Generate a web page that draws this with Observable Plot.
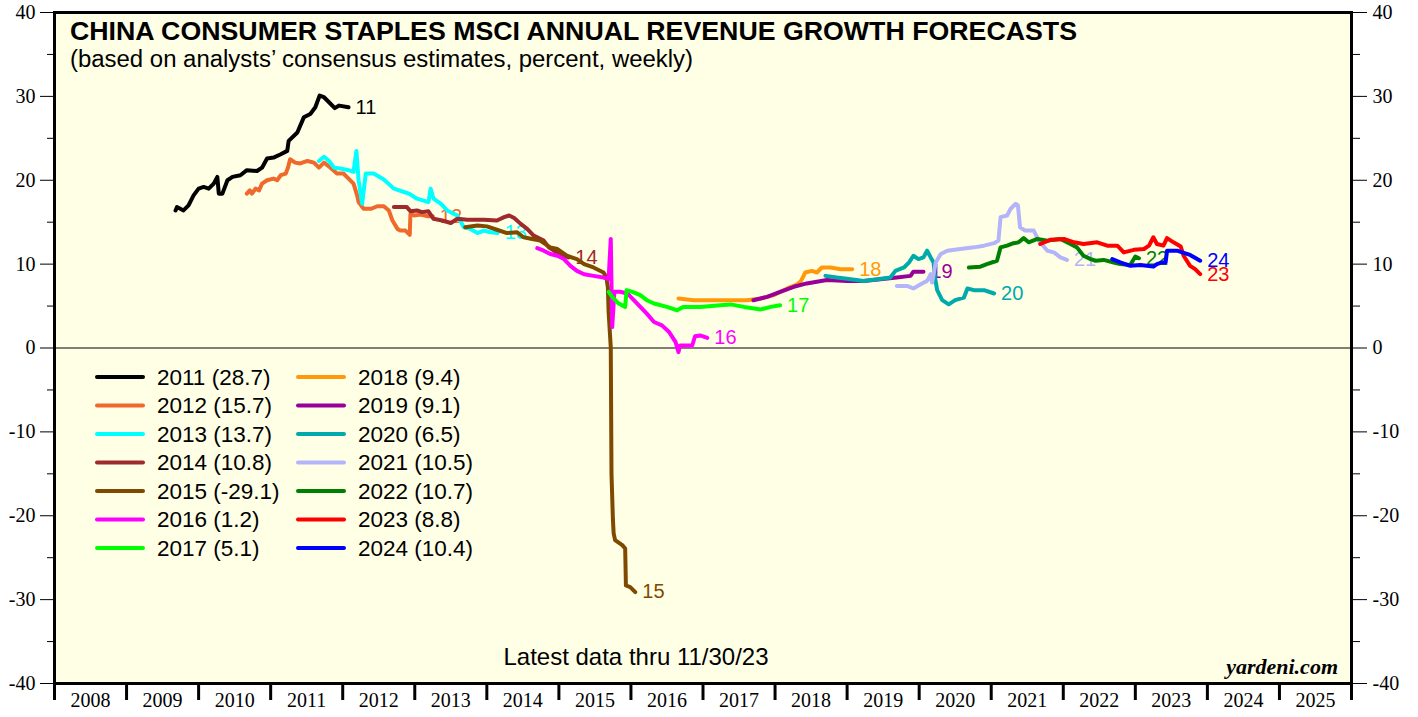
<!DOCTYPE html>
<html><head><meta charset="utf-8">
<script src="https://cdn.jsdelivr.net/npm/d3@7"></script>
<script src="https://cdn.jsdelivr.net/npm/@observablehq/plot@0.6"></script>
<style>
html,body{margin:0;padding:0;background:#fff}
#wrap{position:relative;width:1418px;height:717px}
</style></head>
<body><div id="wrap"></div>
<script>
// ---------- DATA (decimal year, percent) ----------
const s2011 = [[2009.68,16.4],[2009.70,16.8],[2009.79,16.4],[2009.86,17.0],[2009.93,18.2],[2010.00,19.0],[2010.07,19.2],[2010.14,19.0],[2010.21,19.6],[2010.26,20.4],[2010.28,18.4],[2010.33,18.4],[2010.40,20.0],[2010.47,20.4],[2010.58,20.6],[2010.67,21.2],[2010.81,21.1],[2010.88,21.5],[2010.95,22.6],[2011.04,22.7],[2011.14,23.1],[2011.23,23.5],[2011.25,24.7],[2011.37,25.7],[2011.46,27.5],[2011.55,27.9],[2011.62,28.7],[2011.68,30.1],[2011.74,29.9],[2011.81,29.3],[2011.89,28.6],[2011.95,28.9],[2012.08,28.7]];
const s2012 = [[2010.67,18.4],[2010.71,18.8],[2010.74,18.4],[2010.79,19.0],[2010.84,18.8],[2010.88,19.6],[2010.95,20.0],[2011.04,20.2],[2011.09,20.0],[2011.14,20.6],[2011.21,20.8],[2011.24,21.5],[2011.27,22.5],[2011.34,22.1],[2011.41,22.0],[2011.51,22.3],[2011.60,22.1],[2011.67,21.5],[2011.74,22.1],[2011.83,21.5],[2011.92,20.8],[2012.01,20.8],[2012.08,20.2],[2012.15,19.6],[2012.20,18.2],[2012.22,17.4],[2012.29,16.6],[2012.39,16.6],[2012.48,16.9],[2012.57,16.9],[2012.64,16.4],[2012.69,15.2],[2012.76,14.2],[2012.80,14.0],[2012.87,14.0],[2012.93,13.5],[2012.94,16.0],[2012.99,15.8],[2013.08,15.9],[2013.18,15.7],[2013.25,15.7]];
const s2013 = [[2011.67,22.3],[2011.74,22.8],[2011.81,22.3],[2011.88,21.5],[2011.97,21.4],[2012.08,21.2],[2012.15,21.0],[2012.19,23.5],[2012.22,20.0],[2012.27,17.2],[2012.32,20.8],[2012.43,20.8],[2012.57,20.1],[2012.71,19.0],[2012.85,18.6],[2012.92,18.4],[2013.03,17.8],[2013.19,17.4],[2013.22,19.0],[2013.26,17.8],[2013.36,17.2],[2013.45,16.4],[2013.59,15.8],[2013.68,14.4],[2013.77,14.2],[2013.87,13.7],[2013.96,14.0],[2014.05,13.8],[2014.15,13.7]];
const s2014 = [[2012.71,16.8],[2012.89,16.8],[2012.94,16.3],[2013.03,16.4],[2013.10,16.2],[2013.19,16.3],[2013.26,15.4],[2013.38,15.2],[2013.50,14.9],[2013.59,15.4],[2013.73,15.3],[2013.96,15.3],[2014.14,15.2],[2014.24,15.6],[2014.31,15.8],[2014.38,15.5],[2014.47,14.8],[2014.56,14.2],[2014.65,13.4],[2014.79,12.8],[2014.86,12.0],[2014.93,11.6],[2015.07,11.0],[2015.13,10.8]];
const s2015 = [[2013.70,14.4],[2013.87,14.6],[2014.00,14.5],[2014.14,14.1],[2014.28,13.7],[2014.42,13.8],[2014.51,13.2],[2014.63,13.0],[2014.74,12.8],[2014.88,12.0],[2014.98,11.8],[2015.11,11.0],[2015.25,10.6],[2015.35,10.0],[2015.48,9.6],[2015.62,9.0],[2015.66,8.4],[2015.68,7.2],[2015.69,4.3],[2015.72,0.1],[2015.73,-15.0],[2015.75,-20.5],[2015.76,-22.1],[2015.78,-22.9],[2015.88,-23.5],[2015.92,-23.9],[2015.93,-28.3],[2015.99,-28.5],[2016.06,-29.1]];
const s2016 = [[2014.70,11.9],[2014.79,11.6],[2014.88,11.2],[2014.98,11.0],[2015.07,10.6],[2015.16,9.8],[2015.25,9.2],[2015.35,8.8],[2015.48,8.6],[2015.62,8.4],[2015.69,8.2],[2015.72,13.0],[2015.74,2.5],[2015.77,6.7],[2015.85,6.7],[2015.95,6.5],[2016.04,5.7],[2016.13,4.9],[2016.22,4.1],[2016.32,3.1],[2016.43,2.7],[2016.53,1.9],[2016.62,0.7],[2016.66,-0.5],[2016.68,0.3],[2016.85,0.3],[2016.89,1.4],[2016.96,1.5],[2017.06,1.2]];
const s2017 = [[2015.69,6.7],[2015.74,6.1],[2015.83,5.3],[2015.92,4.9],[2015.94,6.9],[2016.02,6.7],[2016.13,6.3],[2016.22,5.7],[2016.32,5.3],[2016.50,4.9],[2016.64,4.5],[2016.73,4.9],[2016.96,4.9],[2017.24,5.1],[2017.38,5.2],[2017.57,4.9],[2017.80,4.6],[2017.94,4.9],[2018.07,5.1]];
const s2018 = [[2016.66,5.9],[2016.87,5.7],[2017.06,5.7],[2017.24,5.7],[2017.43,5.7],[2017.61,5.7],[2017.80,5.9],[2017.98,6.3],[2018.17,7.1],[2018.31,7.6],[2018.36,8.0],[2018.42,9.0],[2018.51,9.2],[2018.58,9.0],[2018.65,9.6],[2018.77,9.6],[2018.91,9.4],[2019.07,9.4]];
const s2019 = [[2017.70,5.7],[2017.89,6.1],[2018.07,6.7],[2018.26,7.3],[2018.44,7.7],[2018.72,8.1],[2019.00,8.0],[2019.23,8.0],[2019.46,8.2],[2019.69,8.4],[2019.88,8.6],[2019.92,9.1],[2020.06,9.1]];
const s2020 = [[2018.70,8.6],[2018.86,8.4],[2019.05,8.2],[2019.23,8.0],[2019.42,8.2],[2019.60,8.4],[2019.67,9.2],[2019.79,9.6],[2019.86,10.2],[2019.92,11.0],[2019.99,10.6],[2020.06,10.8],[2020.11,11.6],[2020.16,10.8],[2020.20,10.2],[2020.22,8.4],[2020.25,6.9],[2020.32,5.7],[2020.41,5.2],[2020.50,5.7],[2020.62,6.0],[2020.67,7.1],[2020.76,6.9],[2020.90,6.9],[2021.04,6.5]];
const s2021 = [[2019.69,7.4],[2019.83,7.4],[2019.92,7.1],[2020.02,7.6],[2020.11,8.0],[2020.16,8.8],[2020.18,7.8],[2020.23,10.2],[2020.30,11.2],[2020.39,11.6],[2020.57,11.8],[2020.76,12.0],[2020.90,12.2],[2021.04,12.5],[2021.10,12.8],[2021.13,15.6],[2021.22,15.8],[2021.27,16.6],[2021.34,17.2],[2021.37,17.0],[2021.40,14.4],[2021.47,14.0],[2021.59,14.0],[2021.66,12.8],[2021.78,11.6],[2021.87,11.4],[2021.96,10.8],[2022.05,10.5]];
const s2022 = [[2020.69,9.6],[2020.85,9.7],[2020.94,10.0],[2021.08,10.4],[2021.13,12.0],[2021.22,12.2],[2021.31,12.5],[2021.38,12.6],[2021.45,13.1],[2021.52,12.6],[2021.64,13.0],[2021.78,12.8],[2021.96,13.0],[2022.10,12.4],[2022.19,12.0],[2022.28,11.0],[2022.38,10.6],[2022.45,10.4],[2022.56,10.5],[2022.70,10.2],[2022.79,10.0],[2022.93,9.9],[2023.00,10.9],[2023.05,10.7]];
const s2023 = [[2021.68,12.4],[2021.82,12.9],[2022.01,13.0],[2022.15,12.6],[2022.28,12.4],[2022.47,12.6],[2022.61,12.2],[2022.75,12.2],[2022.84,11.4],[2022.98,11.7],[2023.12,11.8],[2023.19,12.2],[2023.25,13.2],[2023.30,12.4],[2023.39,12.2],[2023.44,13.1],[2023.53,12.6],[2023.63,12.1],[2023.67,11.0],[2023.76,9.8],[2023.83,9.4],[2023.90,8.8]];
const s2024 = [[2022.68,10.6],[2022.79,10.2],[2022.93,9.8],[2023.07,9.9],[2023.16,9.8],[2023.25,9.7],[2023.30,10.0],[2023.37,10.2],[2023.42,10.2],[2023.44,11.6],[2023.58,11.6],[2023.65,11.4],[2023.76,11.1],[2023.90,10.4]];

const seriesData   = [s2011,s2012,s2013,s2014,s2015,s2016,s2017,s2018,s2019,s2020,s2021,s2022,s2023,s2024];
const seriesNames  = ["2011","2012","2013","2014","2015","2016","2017","2018","2019","2020","2021","2022","2023","2024"];
const legendValues = ["28.7","15.7","13.7","10.8","-29.1","1.2","5.1","9.4","9.1","6.5","10.5","10.7","8.8","10.4"];
const endLabels    = ["11","12","13","14","15","16","17","18","19","20","21","22","23","24"];
const seriesColors = ["#000000","#F0692C","#00FFFF","#9E2A2B","#7F4A00","#FF00FF","#00FF00","#FF990A","#990099","#00AAAA","#B4B4FA","#008000","#FF0000","#0000FF"];

const yMajor = [-40,-30,-20,-10,0,10,20,30,40];
const yMinor = [-35,-25,-15,-5,5,15,25,35];
const xYears = d3.range(2008, 2027);
const xLabels = d3.range(2008, 2026);

const titleText = "CHINA CONSUMER STAPLES MSCI ANNUAL REVENUE GROWTH FORECASTS";
const subtitleText = "(based on analysts\u2019 consensus estimates, percent, weekly)";
const noteText = "Latest data thru 11/30/23";
const creditText = "yardeni.com";

// ---------- CHART ----------
const SANS = "Arial, 'Liberation Sans', sans-serif";
const SERIF = "'Times New Roman', 'Liberation Serif', serif";

const marks = [
  Plot.frame({fill: "#FFFFE6", stroke: null}),
  Plot.ruleY([0], {stroke: "#000", strokeWidth: 1})
];
seriesData.forEach((s, i) => {
  marks.push(Plot.line(s, {x: d => d[0], y: d => d[1], stroke: seriesColors[i], strokeWidth: 4, strokeLinejoin: "round"}));
  marks.push(Plot.text([s[s.length - 1]], {x: d => d[0], y: d => d[1], text: () => endLabels[i], fill: seriesColors[i], dx: 7, textAnchor: "start", fontSize: 20, fontFamily: SANS}));
});
marks.push(
  Plot.axisY({ticks: yMajor, anchor: "left", tickSize: 14, tickPadding: 5, tickFormat: d => String(d), fontSize: 20}),
  Plot.axisY({ticks: yMinor, anchor: "left", tickSize: 7, tickFormat: () => ""}),
  Plot.axisY({ticks: yMajor, anchor: "right", tickSize: 15, tickPadding: 6, tickFormat: d => String(d), fontSize: 20}),
  Plot.axisY({ticks: yMinor, anchor: "right", tickSize: 8, tickFormat: () => ""}),
  Plot.axisX({ticks: xYears, anchor: "bottom", tickSize: 17, strokeWidth: 3, tickFormat: () => ""}),
  Plot.axisX({ticks: xLabels.map(y => y + 0.5), anchor: "bottom", tickSize: 0, tickPadding: 9, tickFormat: d => String(Math.floor(d)), fontSize: 20}),
  Plot.frame({stroke: "#000", strokeWidth: 3})
);

const chart = Plot.plot({
  width: 1418, height: 717,
  marginLeft: 54, marginRight: 67, marginTop: 12, marginBottom: 34,
  x: {domain: [2008, 2026], axis: null},
  y: {domain: [-40, 40], axis: null},
  style: {background: "#fff", fontFamily: SERIF, fontSize: "20px", color: "#000"},
  marks
});
document.getElementById("wrap").appendChild(chart);

// ---------- ANNOTATIONS ----------
const svg = d3.select(chart);
const ann = svg.append("g").attr("text-anchor", "start").attr("fill", "#000");
ann.append("text").attr("x", 70).attr("y", 40).attr("font-family", SANS).attr("font-weight", "bold").attr("font-size", 25)
  .attr("textLength", 1007).attr("lengthAdjust", "spacingAndGlyphs").text(titleText);
ann.append("text").attr("x", 70).attr("y", 67).attr("font-family", SANS).attr("font-size", 23.5)
  .attr("textLength", 623).attr("lengthAdjust", "spacingAndGlyphs").text(subtitleText);
ann.append("text").attr("x", 636).attr("y", 665).attr("text-anchor", "middle").attr("font-family", SANS).attr("font-size", 24).text(noteText);
ann.append("text").attr("x", 1338).attr("y", 674).attr("text-anchor", "end").attr("font-family", SERIF).attr("font-weight", "bold").attr("font-style", "italic").attr("font-size", 22).text(creditText);

const lg = ann.append("g").attr("font-family", SANS).attr("font-size", 22.5);
seriesNames.forEach((name, i) => {
  const col = i < 7 ? 0 : 1, row = i % 7;
  const x0 = col === 0 ? 97 : 298, y0 = 377 + row * 28.5;
  lg.append("line").attr("x1", x0).attr("x2", x0 + 46).attr("y1", y0).attr("y2", y0)
    .attr("stroke", seriesColors[i]).attr("stroke-width", 4).attr("stroke-linecap", "round");
  lg.append("text").attr("x", x0 + 60).attr("y", y0).attr("dy", "0.35em")
    .text(`${name} (${legendValues[i]})`);
});
</script>
</body></html>
